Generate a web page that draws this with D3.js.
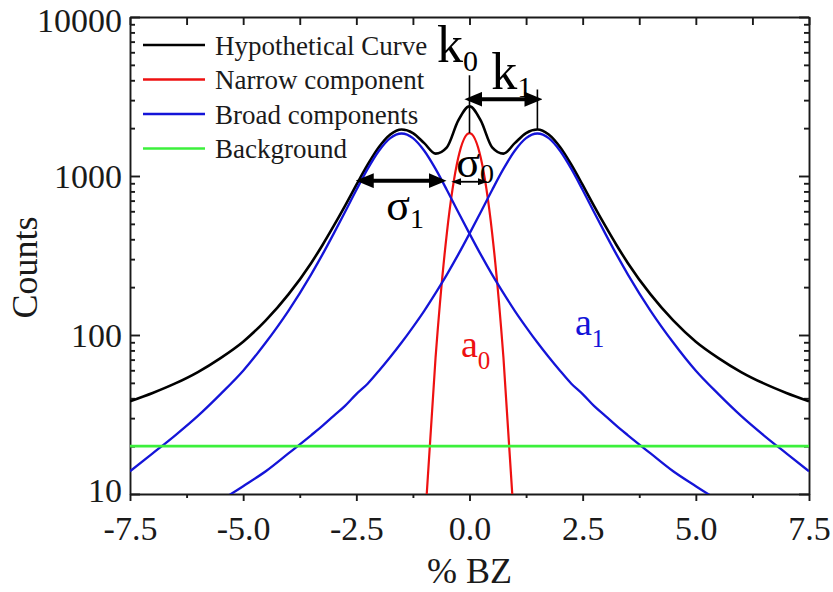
<!DOCTYPE html>
<meta charset="utf-8">
<head>
  <title>Counts vs % BZ</title>
</head>
<style>
body { margin: 0; background: #fff; }
svg text { font-family: "Liberation Serif", "Times New Roman", serif; }
.axis path, .axis line { stroke: #1a1a1a; stroke-width: 1.9px; }
.axis text { font-size: 34px; fill: #1a1a1a; }
.curve { fill: none; stroke-linejoin: round; }
</style>
<body>

<script src="https://d3js.org/d3.v7.min.js"></script>
<script>

// x positions (% BZ) shared by the broad components and the hypothetical curve
var xs = [-7.5,-7,-6.5,-6,-5.5,-5,-4.5,-4,
          -3.5,-3.25,-3,-2.75,-2.5,-2.25,-2,-1.75,-1.5,-1.25,-1,-0.75,-0.5,-0.25,
          0,0.25,0.5,0.75,1,1.25,1.5,1.75,2,2.25,2.5,2.75,3,3.25,3.5,
          4,4.5,5,5.5,6,6.5,7,7.5];

// hypothetical (total) curve
var hypothetical = [38.3,43.2,49.6,58.5,71.6,90.8,123.6,180,
                    283,367,485,649,878,1177,1521,1824,1960,1863,1609,1383,1515,2230,
                    2748,2230,1515,1383,1609,1863,1960,1824,1521,1177,878,649,485,367,283,
                    180,123.6,90.8,71.6,58.5,49.6,43.2,38.3];

// broad component centred at -1.5
var broadLeft = [13.9,18.0,23.4,31,42.5,59.6,89.7,142,
                 240,320,434,594,817,1108,1441,1731,1850,1731,1441,1108,817,594,
                 434,320,240,183.5,142,112.2,89.7,72.7,59.6,49.4,42.5,35.8,31,26.8,23.4,
                 18.0,13.9,11.2,9.1,7.5,6.2,5.2,4.4];

// broad component centred at +1.5
var broadRight = [4.4,5.2,6.2,7.5,9.1,11.2,13.9,18.0,
                  23.4,26.8,31,35.8,42.5,49.4,59.6,72.7,89.7,112.2,142,183.5,240,320,
                  434,594,817,1108,1441,1731,1850,1731,1441,1108,817,594,434,320,240,
                  142,89.7,59.6,42.5,31,23.4,18.0,13.9];

// narrow component
var narrowX = [-1.25,-1,-0.75,-0.5,-0.25,0,0.25,0.5,0.75,1,1.25];
var narrowY = [0.22,5.7,71.9,438,1296,1860,1296,438,71.9,5.7,0.22];

// background
var bgX = [-7.5, 7.5];
var bgY = [20, 20];

// axis ticks
var xMajor = [-7.5,-5,-2.5,0,2.5,5,7.5];
var xMinor = [-6.25,-3.75,-1.25,1.25,3.75,6.25];
var yMajor = [10,100,1000,10000];

var legendLabels = ["Hypothetical Curve","Narrow component","Broad components","Background"];
var legendColors = ["#000000","#ee1111","#1414d8","#3cf03c"];

// set the dimensions and margins of the graph
var margin = {top: 17, right: 24, bottom: 98, left: 130},
    width = 833 - margin.left - margin.right,
    height = 592 - margin.top - margin.bottom;

var x = d3.scaleLinear().domain([-7.5, 7.5]).range([0, width]);
var y = d3.scaleLog().domain([10, 10000]).range([height, 0]);

var yMinor = [];
[10,100,1000].forEach(function(d) {
  for (var k = 2; k <= 9; k++) yMinor.push(d * k);
});

var svg = d3.select("body").append("svg")
    .attr("width", width + margin.left + margin.right)
    .attr("height", height + margin.top + margin.bottom);

var defs = svg.append("defs");
defs.append("clipPath").attr("id", "plot")
  .append("rect").attr("width", width).attr("height", height);

// arrow heads
function arrowMarker(id, len, half) {
  defs.append("marker")
      .attr("id", id)
      .attr("markerUnits", "userSpaceOnUse")
      .attr("viewBox", "0 0 " + len + " " + (2 * half))
      .attr("markerWidth", len)
      .attr("markerHeight", 2 * half)
      .attr("refX", len - 6)
      .attr("refY", half)
      .attr("orient", "auto-start-reverse")
    .append("path")
      .attr("d", "M0,0L" + len + "," + half + "L0," + (2 * half) + "Z")
      .attr("fill", "#000");
}
arrowMarker("bigArrow", 18, 7.5);
arrowMarker("smallArrow", 10, 3.5);

var g = svg.append("g")
    .attr("transform", "translate(" + margin.left + "," + margin.top + ")");

// ticks: bottom (outward), top/left/right (inward)
g.append("g").attr("class", "axis xlab")
    .attr("transform", "translate(0," + height + ")")
    .call(d3.axisBottom(x).tickValues(xMajor).tickSizeInner(7).tickSizeOuter(0)
      .tickPadding(12).tickFormat(function(d) { return d.toFixed(1); }));
g.append("g").attr("class", "axis")
    .attr("transform", "translate(0," + height + ")")
    .call(d3.axisBottom(x).tickValues(xMinor).tickSize(4).tickFormat(""))
    .select(".domain").remove();

g.append("g").attr("class", "axis")
    .call(d3.axisTop(x).tickValues(xMajor.concat(xMinor)).tickSizeInner(-8).tickSizeOuter(0).tickFormat(""));

g.append("g").attr("class", "axis ylab")
    .call(d3.axisLeft(y).tickValues(yMajor).tickSizeInner(-10).tickSizeOuter(0)
      .tickPadding(8).tickFormat(d3.format("d")));
g.append("g").attr("class", "axis")
    .call(d3.axisLeft(y).tickValues(yMinor).tickSize(-5).tickFormat(""))
    .select(".domain").remove();

g.append("g").attr("class", "axis")
    .attr("transform", "translate(" + width + ",0)")
    .call(d3.axisRight(y).tickValues(yMajor).tickSizeInner(-10).tickSizeOuter(0).tickFormat(""));
g.append("g").attr("class", "axis")
    .attr("transform", "translate(" + width + ",0)")
    .call(d3.axisRight(y).tickValues(yMinor).tickSize(-5).tickFormat(""))
    .select(".domain").remove();

// baseline tweaks so labels sit as in the original
g.selectAll(".xlab .tick text").attr("dy", "0.78em");
g.selectAll(".ylab .tick text").attr("dy", function(d) {
  return d === 10000 ? "0.42em" : d === 10 ? "0.22em" : "0.33em";
});

// curves
var line = d3.line()
    .x(function(d) { return x(d[0]); })
    .y(function(d) { return y(d[1]); })
    .curve(d3.curveMonotoneX);

function pairs(xv, yv) { return xv.map(function(v, i) { return [v, yv[i]]; }); }

var curves = g.append("g").attr("clip-path", "url(#plot)");

curves.append("path").attr("class", "curve")
    .datum(pairs(xs, hypothetical))
    .attr("stroke", legendColors[0]).attr("stroke-width", 2.6)
    .attr("d", line);
curves.append("path").attr("class", "curve")
    .datum(pairs(narrowX, narrowY))
    .attr("stroke", legendColors[1]).attr("stroke-width", 2.2)
    .attr("d", line);
curves.append("path").attr("class", "curve")
    .datum(pairs(xs, broadLeft))
    .attr("stroke", legendColors[2]).attr("stroke-width", 2.3)
    .attr("d", line);
curves.append("path").attr("class", "curve")
    .datum(pairs(xs, broadRight))
    .attr("stroke", legendColors[2]).attr("stroke-width", 2.3)
    .attr("d", line);
curves.append("path").attr("class", "curve")
    .datum(pairs(bgX, bgY))
    .attr("stroke", legendColors[3]).attr("stroke-width", 2.6)
    .attr("d", line);

// annotations: k0, k1, sigma0, sigma1
g.append("line")
    .attr("x1", x(0)).attr("x2", x(0))
    .attr("y1", y(4300)).attr("y2", y(1860))
    .attr("stroke", "#000").attr("stroke-width", 1.6);
g.append("line")
    .attr("x1", x(1.5)).attr("x2", x(1.5))
    .attr("y1", y(3500)).attr("y2", y(1960))
    .attr("stroke", "#000").attr("stroke-width", 1.6);

function arrow(x1, x2, yv, marker, w) {
  g.append("line")
      .attr("x1", x(x1)).attr("x2", x(x2))
      .attr("y1", y(yv)).attr("y2", y(yv))
      .attr("stroke", "#000").attr("stroke-width", w)
      .attr("marker-start", "url(#" + marker + ")")
      .attr("marker-end", "url(#" + marker + ")");
}
arrow(0.02, 1.48, 3040, "bigArrow", 4);
arrow(-2.38, -0.64, 935, "bigArrow", 4);
arrow(-0.27, 0.27, 920, "smallArrow", 1.8);

function subLabel(xv, yv, main, sub, size, subSize, subDy, color) {
  var t = g.append("text")
      .attr("x", x(xv)).attr("y", y(yv))
      .attr("fill", color)
      .style("font-size", size + "px");
  t.append("tspan").text(main);
  t.append("tspan").attr("dy", subDy).style("font-size", subSize + "px").text(sub);
}
subLabel(-0.72, 5250, "k", "0", 52, 30, 10, "#000");
subLabel(0.48, 3550, "k", "1", 52, 30, 8, "#000");
subLabel(-0.29, 990, "\u03c3", "0", 44, 28, 6, "#000");
subLabel(-1.84, 530, "\u03c3", "1", 44, 28, 8, "#000");
subLabel(-0.19, 73, "a", "0", 38, 25, 12, legendColors[1]);
subLabel(2.33, 100, "a", "1", 38, 25, 12, legendColors[2]);

// legend
var legend = g.selectAll(".legend")
    .data(legendLabels)
  .enter().append("g")
    .attr("class", "legend")
    .attr("transform", function(d, i) { return "translate(13," + (28 + i * 34.5) + ")"; });
legend.append("line")
    .attr("x1", 0).attr("x2", 62)
    .attr("stroke", function(d, i) { return legendColors[i]; })
    .attr("stroke-width", 2.6);
legend.append("text")
    .attr("x", 72).attr("dy", "0.36em")
    .style("font-size", "27px").attr("fill", "#1a1a1a")
    .text(function(d) { return d; });

// axis titles
g.append("text")
    .attr("transform", "translate(" + (37 - margin.left) + "," + (height / 2 + 12) + ") rotate(-90)")
    .attr("text-anchor", "middle")
    .style("font-size", "36px").attr("fill", "#1a1a1a")
    .text("Counts");
g.append("text")
    .attr("x", width / 2).attr("y", height + 89)
    .attr("text-anchor", "middle")
    .style("font-size", "36px").attr("fill", "#1a1a1a")
    .text("% BZ");

</script>
</body>
